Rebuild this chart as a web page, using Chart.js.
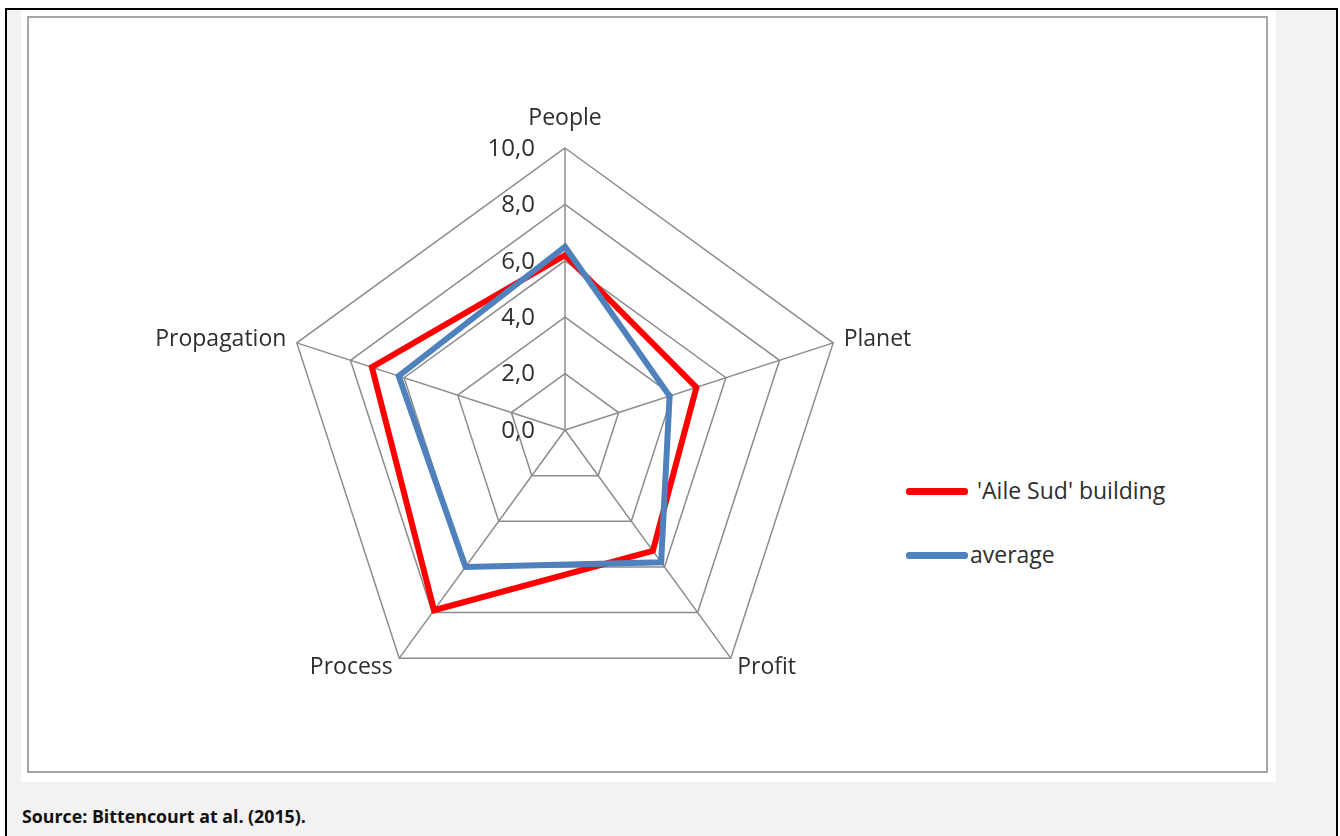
<!DOCTYPE html>
<html>
<head>
<meta charset="utf-8">
<title>Radar - Aile Sud</title>
<script src="https://cdn.jsdelivr.net/npm/chart.js@4.4.0/dist/chart.umd.min.js"></script>
<style>
    body { margin: 0; background: #fff; font-family: "Open Sans", sans-serif; }
    #page {
        position: absolute; left: 5px; top: 8px; width: 1329px; height: 840px;
        border: 2px solid #000; background: #f2f2f2;
    }
    #white {
        position: absolute; left: 14px; top: 0px; width: 1255px; height: 772px; background: #fff;
    }
    #frame {
        position: absolute; left: 6px; top: 6px; width: 1237px; height: 753px;
        border: 2px solid #a6a6a6;
    }
    #source {
        position: absolute; left: 15px; top: 794px; font-weight: bold; font-size: 17.8px; color: #111;
    }
    #legend { position: absolute; left: 906px; top: 470px; font-size: 23px; color: #2e2e2e; }
    .item { position: relative; height: 64px; }
    .line { position: absolute; left: 0; top: 18px; width: 62px; height: 7px; border-radius: 3px; }
    .txt { position: absolute; top: 0; white-space: nowrap; line-height: 40px; }
    canvas { position: absolute; left: 0; top: 0; }
</style>
</head>
<body>
<div id="page">
    <div id="white"><div id="frame"></div></div>
    <div id="source">Source: Bittencourt at al. (2015).</div>
</div>
<div id="legend"></div>
<canvas id="mycanvas" width="1340" height="836"></canvas>
<script>
// Werte
var axisLabels = ['People', 'Planet', 'Profit', 'Process', 'Propagation'];
var seriesNames = ["'Aile Sud' building", 'average'];
var aileSud = [6.2, 4.9, 5.3, 7.9, 7.2];
var average = [6.5, 3.9, 5.8, 6.0, 6.2];
var seriesColors = ['#ff0000', '#4f81bd'];

var textColor = '#2e2e2e';
var labelFont = '23px "Open Sans"';
var tickFont = '24px "Open Sans"';

// eigene Beschriftung (Achsen + Ticks links neben der Achse)
var labelPlugin = {
    id: 'labelPlugin',
    afterDraw: function (chart) {
        var scale = chart.scales.r;
        var ctx = chart.ctx;
        ctx.save();
        ctx.fillStyle = textColor;
        ctx.textBaseline = 'middle';

        // Ticks
        ctx.font = tickFont;
        ctx.textAlign = 'right';
        scale.ticks.forEach(function (t) {
            var d = scale.getDistanceFromCenterForValue(t.value);
            ctx.fillText(t.label, scale.xCenter - 30, scale.yCenter - d + 1);
        });

        // Achsenbeschriftung
        ctx.font = labelFont;
        for (var i = 0; i < axisLabels.length; i++) {
            var pad = (i === 0) ? 30 : 11;
            var p = scale.getPointPosition(i, scale.drawingArea + pad);
            if (i === 0) ctx.textAlign = 'center';
            else if (p.x > scale.xCenter) ctx.textAlign = 'left';
            else ctx.textAlign = 'right';
            ctx.fillText(axisLabels[i], p.x, p.y);
        }
        ctx.restore();
    }
};

var chartdata = {
    labels: axisLabels,
    datasets: [
        {
            label: seriesNames[0],
            data: aileSud,
            borderColor: seriesColors[0],
            backgroundColor: seriesColors[0],
            borderWidth: 6,
            fill: false,
            pointRadius: 0,
            order: 1
        },
        {
            label: seriesNames[1],
            data: average,
            borderColor: seriesColors[1],
            backgroundColor: seriesColors[1],
            borderWidth: 6,
            fill: false,
            pointRadius: 0,
            order: 0
        }
    ]
};

var ctx = document.getElementById('mycanvas');
var radarChart = new Chart(ctx, {
    type: 'radar',
    data: chartdata,
    plugins: [labelPlugin],
    options: {
        responsive: false,
        animation: false,
        layout: { padding: { left: 283, right: 493, top: 148, bottom: 124 } },
        plugins: { legend: { display: false }, tooltip: { enabled: false } },
        elements: { line: { tension: 0, borderJoinStyle: 'miter' } },
        scales: {
            r: {
                min: 0,
                max: 10,
                ticks: {
                    stepSize: 2,
                    display: false,
                    callback: function (v) { return v.toFixed(1).replace('.', ','); }
                },
                grid: { color: '#8c8c8c', lineWidth: 1.5 },
                angleLines: { color: '#8c8c8c', lineWidth: 1.5 },
                pointLabels: { display: false }
            }
        }
    }
});

// Legende als HTML
var legend = document.getElementById('legend');
radarChart.data.datasets.forEach(function (ds, i) {
    var item = document.createElement('div');
    item.className = 'item';
    var line = document.createElement('div');
    line.className = 'line';
    line.style.background = ds.borderColor;
    var txt = document.createElement('div');
    txt.className = 'txt';
    txt.style.left = (i === 0 ? 71 : 64) + 'px';
    txt.textContent = ds.label;
    item.appendChild(line);
    item.appendChild(txt);
    legend.appendChild(item);
});
</script>
</body>
</html>
